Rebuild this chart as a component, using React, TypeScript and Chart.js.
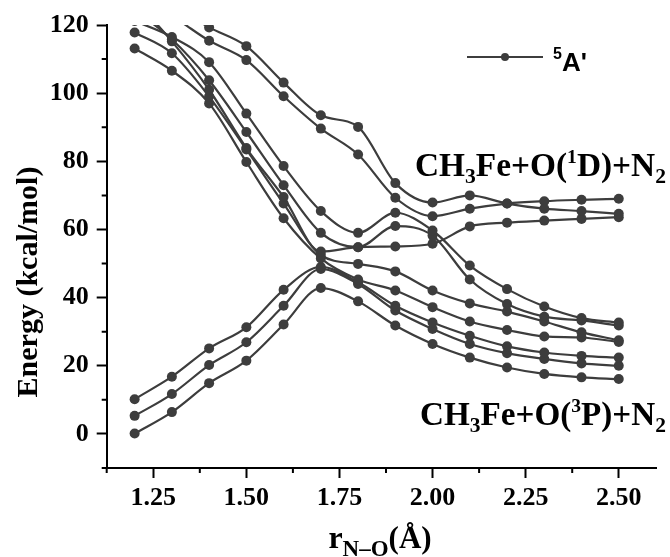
import React, { useEffect, useRef } from "react";
import { Chart, registerables } from "chart.js";

Chart.register(...registerables);

// N–O distance (Å)
const rNO = [1.2, 1.3, 1.4, 1.5, 1.6, 1.7, 1.8, 1.9, 2.0, 2.1, 2.2, 2.3, 2.4, 2.5];

// Energies (kcal/mol) of the 5A' curves
const curveU1 = [131, 126, 119.3, 113.8, 103.1, 93.5, 90.1, 73.6, 67.9, 70.0, 67.6, 66.1, 65.4, 64.6];
const curveU2 = [128, 122.6, 115.4, 109.7, 99.1, 89.6, 82.0, 69.3, 63.9, 66.1, 67.6, 68.3, 68.7, 69.0];
const curveM1 = [121.2, 116.5, 109.1, 94.0, 78.6, 65.4, 59.0, 64.9, 59.7, 49.4, 42.5, 37.4, 34.0, 32.7];
const curveM2 = [124.4, 115.8, 103.8, 88.6, 73.0, 59.0, 54.8, 61.0, 58.2, 45.3, 38.1, 34.4, 33.3, 31.8];
const curveM3 = [127.4, 115.2, 101.0, 83.9, 69.5, 53.5, 54.8, 55.0, 55.8, 60.9, 62.0, 62.6, 63.1, 63.6];
const curveM4 = [117.8, 111.7, 99.0, 83.5, 67.6, 52.5, 49.9, 47.7, 42.1, 38.3, 35.9, 33.0, 29.8, 27.5];
const curveM5 = [113.1, 106.6, 97.0, 79.8, 63.3, 51.5, 45.3, 42.1, 37.2, 33.0, 30.5, 28.6, 28.3, 27.0];
const curveL1 = [10.2, 16.8, 25.1, 31.3, 42.3, 49.0, 44.5, 37.6, 32.7, 28.8, 25.7, 23.9, 22.9, 22.4];
const curveL2 = [5.3, 11.7, 20.2, 26.9, 37.6, 48.4, 44.0, 36.2, 30.8, 26.4, 23.7, 22.0, 20.7, 20.0];
const curveL3 = [0.1, 6.4, 14.9, 21.5, 32.1, 42.8, 38.9, 31.8, 26.4, 22.4, 19.5, 17.6, 16.6, 16.1];

const curves = [curveU1, curveU2, curveM1, curveM2, curveM3, curveM4, curveM5, curveL1, curveL2, curveL3];

// Axis ticks
const xMajorTicks = [1.25, 1.5, 1.75, 2.0, 2.25, 2.5];
const xMinorTicks = [1.125, 1.375, 1.625, 1.875, 2.125, 2.375];
const yMajorTicks = [0, 20, 40, 60, 80, 100, 120];
const yMinorTicks = [-10, 10, 30, 50, 70, 90, 110];

const LINE = "#3d3d3d";
const SERIF = "'Liberation Serif', 'Times New Roman', serif";
const SANS = "'Liberation Sans', Arial, sans-serif";

type Seg = { t: string; size: number; dy: number; family?: string };

function drawRich(ctx: CanvasRenderingContext2D, segs: Seg[], x: number, y: number, k = 1) {
  let cx = x;
  ctx.textAlign = "left";
  ctx.textBaseline = "alphabetic";
  for (const s of segs) {
    ctx.font = `bold ${s.size * k}px ${s.family || SERIF}`;
    ctx.fillText(s.t, cx, y + s.dy * k);
    cx += ctx.measureText(s.t).width;
  }
}

function richWidth(ctx: CanvasRenderingContext2D, segs: Seg[]) {
  let w = 0;
  for (const s of segs) {
    ctx.font = `bold ${s.size}px ${s.family || SERIF}`;
    w += ctx.measureText(s.t).width;
  }
  return w;
}

function drawFitted(ctx: CanvasRenderingContext2D, segs: Seg[], x: number, y: number, width: number) {
  const w = richWidth(ctx, segs);
  drawRich(ctx, segs, x, y, width / w);
}

const decorPlugin = {
  id: "decor",
  afterDraw(chart: any) {
    const ctx: CanvasRenderingContext2D = chart.ctx;
    const xs = chart.scales.x;
    const ys = chart.scales.y;
    const area = chart.chartArea;
    ctx.save();
    // minor ticks
    ctx.strokeStyle = "#000";
    ctx.lineWidth = 2;
    ctx.beginPath();
    for (const v of xMinorTicks) {
      const px = xs.getPixelForValue(v);
      ctx.moveTo(px, area.bottom);
      ctx.lineTo(px, area.bottom + 5);
    }
    for (const v of yMinorTicks) {
      const py = ys.getPixelForValue(v);
      ctx.moveTo(area.left, py);
      ctx.lineTo(area.left - 5, py);
    }
    ctx.stroke();

    ctx.fillStyle = "#000";
    // y title
    ctx.save();
    ctx.translate(21, 274);
    ctx.rotate(-Math.PI / 2);
    ctx.font = `bold 30px ${SERIF}`;
    ctx.textAlign = "center";
    ctx.textBaseline = "middle";
    ctx.fillText("Energy (kcal/mol)", 0, 0);
    ctx.restore();

    // x title
    const xt: Seg[] = [
      { t: "r", size: 32, dy: 0 },
      { t: "N\u2013O", size: 23, dy: 8 },
      { t: "(\u00C5)", size: 31, dy: 0 },
    ];
    const w = richWidth(ctx, xt);
    drawRich(ctx, xt, 372 - w / 2, 540);

    // annotations
    drawFitted(ctx, [
      { t: "CH", size: 34, dy: 0 },
      { t: "3", size: 22, dy: 7 },
      { t: "Fe+O(", size: 34, dy: 0 },
      { t: "1", size: 20, dy: -13 },
      { t: "D)+N", size: 34, dy: 0 },
      { t: "2", size: 22, dy: 7 },
    ], 407, 168, 251);
    drawFitted(ctx, [
      { t: "CH", size: 34, dy: 0 },
      { t: "3", size: 22, dy: 7 },
      { t: "Fe+O(", size: 34, dy: 0 },
      { t: "3", size: 20, dy: -13 },
      { t: "P)+N", size: 34, dy: 0 },
      { t: "2", size: 22, dy: 7 },
    ], 412, 417, 246);

    // legend
    ctx.strokeStyle = LINE;
    ctx.lineWidth = 2.2;
    ctx.beginPath();
    ctx.moveTo(459, 49);
    ctx.lineTo(535, 49);
    ctx.stroke();
    ctx.fillStyle = LINE;
    ctx.beginPath();
    ctx.arc(497, 49, 4, 0, Math.PI * 2);
    ctx.fill();
    ctx.fillStyle = "#000";
    drawRich(ctx, [
      { t: "5", size: 16, dy: -12, family: SANS },
      { t: "A'", size: 26, dy: 0, family: SANS },
    ], 545, 63);
    ctx.restore();
  },
};

export default function App() {
  const ref = useRef<HTMLCanvasElement | null>(null);
  useEffect(() => {
    if (!ref.current) return;
    const tickFont = { family: SERIF, weight: "bold" as const, size: 26 };
    const chart = new Chart(ref.current, {
      type: "line",
      data: {
        datasets: curves.map((c, i) => ({
          label: "5A' " + (i + 1),
          data: rNO.map((x, j) => ({ x, y: c[j] })),
          borderColor: LINE,
          backgroundColor: LINE,
          borderWidth: 2.2,
          pointRadius: 5,
          pointBorderWidth: 0,
          pointBackgroundColor: LINE,
          cubicInterpolationMode: "monotone" as const,
          fill: false,
        })),
      },
      options: {
        animation: false,
        responsive: true,
        maintainAspectRatio: false,
        layout: { padding: { top: 17, right: 14, left: 0, bottom: 0 } },
        plugins: { legend: { display: false }, tooltip: { enabled: false } },
        scales: {
          x: {
            type: "linear",
            min: 1.125,
            max: 2.6,
            afterBuildTicks: (s: any) => {
              s.ticks = xMajorTicks.map((v) => ({ value: v }));
            },
            afterFit: (s: any) => {
              s.height = 89;
              s.paddingLeft = 0;
              s.paddingRight = 0;
            },
            ticks: {
              font: tickFont,
              color: "#000",
              padding: 5,
              maxRotation: 0,
              autoSkip: false,
              callback: (v: any) => Number(v).toFixed(2),
            },
            grid: { drawOnChartArea: false, drawTicks: true, tickLength: 10, tickWidth: 2, tickColor: "#000" },
            border: { display: true, color: "#000", width: 2 },
          },
          y: {
            type: "linear",
            min: -10,
            max: 120,
            afterBuildTicks: (s: any) => {
              s.ticks = yMajorTicks.map((v) => ({ value: v }));
            },
            afterFit: (s: any) => {
              s.width = 98.7;
              s.paddingTop = 0;
              s.paddingBottom = 0;
            },
            ticks: {
              font: tickFont,
              color: "#000",
              padding: 8,
              autoSkip: false,
              callback: (v: any) => String(v),
            },
            grid: { drawOnChartArea: false, drawTicks: true, tickLength: 10, tickWidth: 2, tickColor: "#000" },
            border: { display: true, color: "#000", width: 2 },
          },
        },
      },
      plugins: [decorPlugin],
    });
    return () => chart.destroy();
  }, []);
  return (
    <div style={{ position: "fixed", left: 8, top: 8, width: 662, height: 549, background: "#fff" }}>
      <canvas ref={ref} />
    </div>
  );
}
